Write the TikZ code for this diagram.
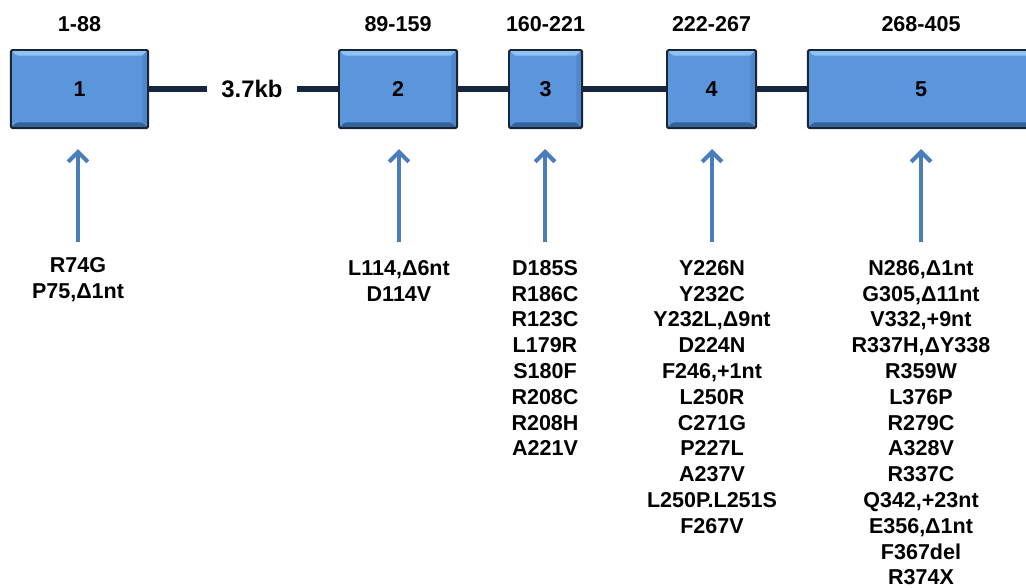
\documentclass[tikz,border=0pt]{standalone}
\usepackage{fontspec}
\setmainfont{Liberation Sans}
\usetikzlibrary{arrows.meta}

\definecolor{exonfill}{RGB}{91,150,221}
\definecolor{exonlight}{RGB}{140,194,244}
\definecolor{exonside}{RGB}{78,135,205}
\definecolor{exondark}{RGB}{52,98,158}
\definecolor{exonedge}{RGB}{28,36,50}
\definecolor{introncol}{RGB}{22,38,62}
\definecolor{mutblue}{RGB}{74,126,187}

\tikzset{
	exon/.style = {draw = exonedge, line width = 1.4pt, fill = exonfill, rounded corners = 1pt,
		minimum height = 1.95cm, inner sep = 0pt, font = \fontsize{15.3}{18}\selectfont\bfseries,
		path picture = {
			\fill[exonlight] (path picture bounding box.north west) -- (path picture bounding box.north east)
				-- ([shift = {(-4pt,-4pt)}]path picture bounding box.north east)
				-- ([shift = {(4pt,-4pt)}]path picture bounding box.north west) -- cycle;
			\fill[exondark] (path picture bounding box.south west) -- (path picture bounding box.south east)
				-- ([shift = {(-4pt,4pt)}]path picture bounding box.south east)
				-- ([shift = {(4pt,4pt)}]path picture bounding box.south west) -- cycle;
			\fill[exonside] (path picture bounding box.north east) -- (path picture bounding box.south east)
				-- ([shift = {(-4pt,4pt)}]path picture bounding box.south east)
				-- ([shift = {(-4pt,-4pt)}]path picture bounding box.north east) -- cycle;
		}},
	intron/.style = {draw = introncol, line width = 4.2pt},
	rangelabel/.style = {font = \fontsize{15.3}{18}\selectfont\bfseries},
	mutlist/.style = {anchor = north, align = center, inner sep = 0pt,
		font = \fontsize{15.3}{18.35}\selectfont\bfseries},
	mutarrow/.style = {draw = mutblue, line width = 3pt, -{Straight Barb[length = 7pt, width = 14pt]}},
}

\begin{document}
\begin{tikzpicture}[x = 0.025cm, y = -0.025cm]
	\useasboundingbox (0,0) rectangle (1026,587);

	% exons and residue ranges
	\foreach \n / \xpos / \boxw / \aarange in {%
		1/79.5/3.425cm/1-88,
		2/398/2.95cm/89-159,
		3/545.5/1.825cm/160-221,
		4/711.5/2.225cm/222-267,
		5/921/5.65cm/268-405%
	}{
		\node[exon, minimum width = \boxw] (ex\n) at (\xpos, 89) {\n};
		\node[rangelabel] (r\n) at (\xpos, 24) {\aarange};
	}

	% introns
	\node[font = \fontsize{17}{20}\selectfont\bfseries, inner xsep = 10pt] (kb) at (252, 89) {3.7kb};
	\draw[intron] (ex1) -- (kb);
	\draw[intron] (kb) -- (ex2);
	\draw[intron] (ex2) -- (ex3);
	\draw[intron] (ex3) -- (ex4);
	\draw[intron] (ex4) -- (ex5);

	% mutations per exon
	\node[mutlist] (m1) at (78, 257) {R74G\\P75,Δ1nt};
	\node[mutlist] (m2) at (399, 260) {L114,Δ6nt\\D114V};
	\node[mutlist] (m3) at (545, 260) {D185S\\R186C\\R123C\\L179R\\S180F\\R208C\\R208H\\A221V};
	\node[mutlist] (m4) at (712, 260) {Y226N\\Y232C\\Y232L,Δ9nt\\D224N\\F246,+1nt\\L250R\\C271G\\P227L\\A237V\\L250P.L251S\\F267V};
	\node[mutlist] (m5) at (921, 260) {N286,Δ1nt\\G305,Δ11nt\\V332,+9nt\\R337H,ΔY338\\R359W\\L376P\\R279C\\A328V\\R337C\\Q342,+23nt\\E356,Δ1nt\\F367del\\R374X};

	% arrows
	\coordinate (tail) at (0, 242);
	\coordinate (tip) at (0, 149);
	\foreach \n in {1,...,5}{
		\draw[mutarrow] (m\n.north |- tail) -- (m\n.north |- tip);
	}
\end{tikzpicture}
\end{document}
